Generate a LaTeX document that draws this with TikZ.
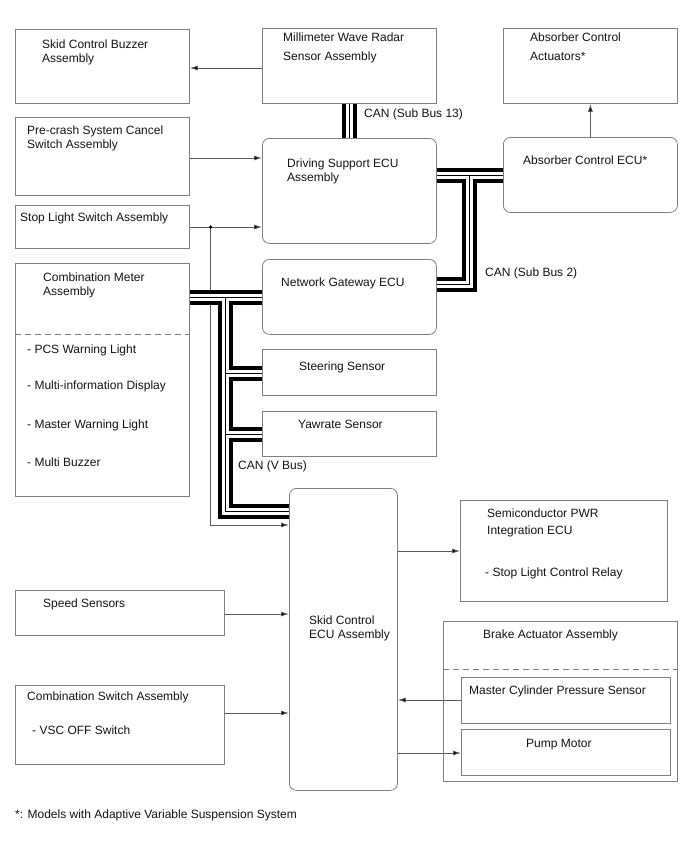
\documentclass[tikz,border=0pt]{standalone}
\usepackage{fontspec}
\setmainfont{Liberation Sans}
\usetikzlibrary{arrows.meta}
\definecolor{boxgray}{RGB}{128,128,128}
\definecolor{linegray}{RGB}{90,90,90}
\definecolor{txt}{RGB}{20,20,20}
\begin{document}
\begin{tikzpicture}[x=1pt,y=-1pt,
  box/.style={draw=boxgray, line width=0.8pt, rectangle, inner sep=0pt, anchor=north west},
  rbox/.style={box, rounded corners=7pt},
  lbl/.style={anchor=base west, inner sep=0pt, text=txt, font=\fontsize{12}{14}\selectfont},
  arr/.style={draw=linegray, line width=0.8pt, -{Latex[length=8pt,width=5pt,fill=black]}},
  busouter/.style={line width=15pt, draw=black},
  businner/.style={line width=7pt, draw=white},
  buscore/.style={line width=0.9pt, draw=black},
  dsh/.style={draw=boxgray, line width=0.8pt, dash pattern=on 6pt off 4pt}
]
\useasboundingbox[fill=white] (0,0) rectangle (688,852);

% boxes
\node[box, minimum width=174pt, minimum height=74pt] (scb) at (15,29) {};
\node[box, minimum width=174pt, minimum height=75pt] (mmw) at (262,28) {};
\node[box, minimum width=174pt, minimum height=75pt] (aca) at (503,28) {};
\node[box, minimum width=174pt, minimum height=78pt] (pcs) at (15,117) {};
\node[rbox, minimum width=174pt, minimum height=105pt] (dse) at (262,138) {};
\node[rbox, minimum width=174pt, minimum height=75pt] (abs) at (503,137) {};
\node[box, minimum width=174pt, minimum height=43pt] (sls) at (15,205) {};
\node[box, minimum width=174pt, minimum height=233pt] (cmb) at (15,263) {};
\node[rbox, minimum width=174pt, minimum height=75pt] (ngw) at (262,259) {};
\node[box, minimum width=174pt, minimum height=46pt] (ste) at (262,349) {};
\node[box, minimum width=174pt, minimum height=45pt] (yaw) at (262,411) {};
\node[rbox, minimum width=108pt, minimum height=302pt] (skid) at (289,488) {};
\node[box, minimum width=207pt, minimum height=101pt] (spr) at (460,500) {};
\node[box, minimum width=209pt, minimum height=45pt] (spd) at (15,590) {};
\node[box, minimum width=209pt, minimum height=79pt] (csw) at (15,685) {};
\node[box, minimum width=234pt, minimum height=160pt] (bra) at (443,621) {};
\node[box, minimum width=209pt, minimum height=46pt] (mcp) at (461,677) {};
\node[box, minimum width=209pt, minimum height=46pt] (pmp) at (461,729) {};

% dashed separators
\draw[dsh] (cmb.west |- 0,334) -- (cmb.east |- 0,334);
\draw[dsh] (bra.west |- 0,669) -- (bra.east |- 0,669);

% texts
\node[lbl] (t1a) at (42,48.5) {Skid Control Buzzer};
\node[lbl] (t1b) at (42,62.5) {Assembly};
\node[lbl] (t2a) at (283,41.5) {Millimeter Wave Radar};
\node[lbl] (t2b) at (283,60) {Sensor Assembly};
\node[lbl] (t3a) at (530,41.5) {Absorber Control};
\node[lbl] (t3b) at (530,60) {Actuators*};
\node[lbl] (t4a) at (27,134.5) {Pre-crash System Cancel};
\node[lbl] (t4b) at (27,148.5) {Switch Assembly};
\node[lbl] (t5a) at (287,167) {Driving Support ECU};
\node[lbl] (t5b) at (287,181.5) {Assembly};
\node[lbl] (t6) at (523,164.5) {Absorber Control ECU*};
\node[lbl] (t7) at (20,221.5) {Stop Light Switch Assembly};
\node[lbl] (t8a) at (43,281) {Combination Meter};
\node[lbl] (t8b) at (43,295.5) {Assembly};
\node[lbl] (t8c) at (27,353.5) {- PCS Warning Light};
\node[lbl] (t8d) at (27,389) {- Multi-information Display};
\node[lbl] (t8e) at (27,428.5) {- Master Warning Light};
\node[lbl] (t8f) at (27,466.5) {- Multi Buzzer};
\node[lbl] (t9) at (281,286.5) {Network Gateway ECU};
\node[lbl] (t10) at (299,370) {Steering Sensor};
\node[lbl] (t11) at (298,428.5) {Yawrate Sensor};
\node[lbl] (c1) at (364,117) {CAN (Sub Bus 13)};
\node[lbl] (c2) at (485,276.5) {CAN (Sub Bus 2)};
\node[lbl] (c3) at (238,469.5) {CAN (V Bus)};
\node[lbl] (t12a) at (309,624.5) {Skid Control};
\node[lbl] (t12b) at (309,638.5) {ECU Assembly};
\node[lbl] (t13a) at (487,517.5) {Semiconductor PWR};
\node[lbl] (t13b) at (487,534.5) {Integration ECU};
\node[lbl] (t13c) at (485,576.5) {- Stop Light Control Relay};
\node[lbl] (t14) at (43,607.5) {Speed Sensors};
\node[lbl] (t15a) at (27,700.5) {Combination Switch Assembly};
\node[lbl] (t15b) at (32,734.5) {- VSC OFF Switch};
\node[lbl] (t16) at (483,638.5) {Brake Actuator Assembly};
\node[lbl] (t17) at (469,694.5) {Master Cylinder Pressure Sensor};
\node[lbl] (t18) at (526,747.5) {Pump Motor};
\node[lbl] (fn) at (15,818.5) {*: Models with Adaptive Variable Suspension System};

% signal arrows
\coordinate (dot) at (210.7,227);
\draw[arr] (dot) |- (skid.west |- 0,525);
\draw[arr] (mmw.west |- 0,68) -- (scb.east |- 0,68);
\draw[arr] (pcs.east |- 0,158) -- (dse.west |- 0,158);
\draw[arr] (sls.east |- 0,227) -- (dse.west |- 0,227);
\fill[black] (dot) circle (1.8pt);
\draw[arr] (abs.north) -- (aca.south);
\draw[arr] (skid.east |- 0,551) -- (spr.west |- 0,551);
\draw[arr] (spd.east |- 0,614) -- (skid.west |- 0,614);
\draw[arr] (csw.east |- 0,713) -- (skid.west |- 0,713);
\draw[arr] (mcp.west |- 0,700) -- (skid.east |- 0,700);
\draw[arr] (skid.east |- 0,753) -- (pmp.west |- 0,753);

% CAN buses
\foreach \s in {busouter,businner,buscore}{
  \draw[\s] (mmw.south) -- (dse.north);
  \draw[\s] (dse.east |- 0,175) -- (abs.west |- 0,175);
  \draw[\s] (469.5,175) -- (469.5,284) -- (ngw.east |- 0,284);
  \draw[\s] (cmb.east |- 0,297) -- (ngw.west |- 0,297);
  \draw[\s] (225,297) -- (225,511) -- (skid.west |- 0,511);
  \draw[\s] (225,373) -- (ste.west |- 0,373);
  \draw[\s] (225,434) -- (yaw.west |- 0,434);
}
\end{tikzpicture}
\end{document}
